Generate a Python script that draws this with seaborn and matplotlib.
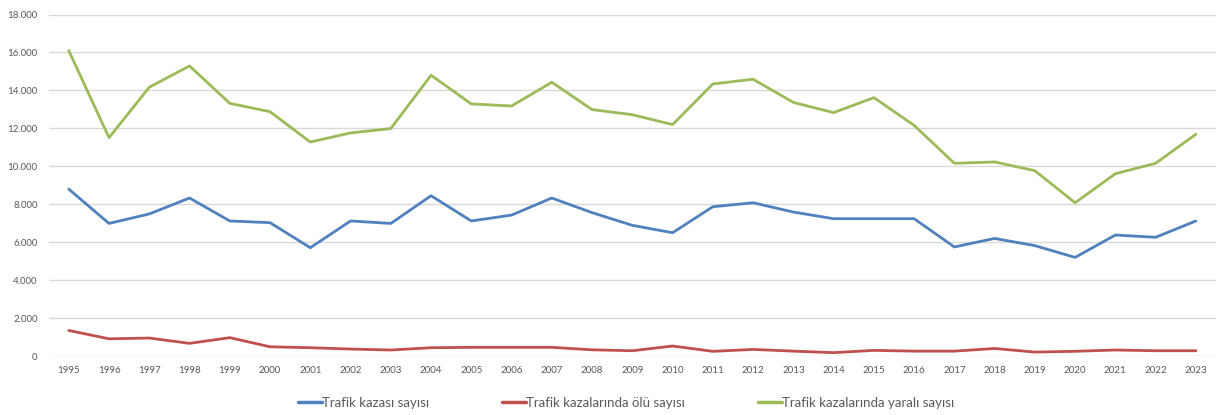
import pandas as pd
import numpy as np
import matplotlib
matplotlib.use("Agg")
import matplotlib.pyplot as plt
from matplotlib.ticker import FuncFormatter, MultipleLocator
import seaborn as sns

years = list(range(1995, 2024))

kaza = [8800, 6990, 7490, 8330, 7120, 7030, 5710, 7120, 6990, 8450,
        7120, 7430, 8330, 7560, 6890, 6500, 7870, 8080, 7590, 7240,
        7240, 7240, 5750, 6200, 5820, 5200, 6380, 6260, 7120]

olu = [1350, 910, 950, 670, 970, 490, 440, 370, 320, 440,
       460, 460, 460, 330, 280, 530, 250, 350, 260, 180,
       300, 260, 260, 400, 210, 250, 320, 280, 280]

yarali = [16100, 11510, 14170, 15290, 13320, 12880, 11280, 11760, 11990, 14800,
          13290, 13180, 14430, 12990, 12720, 12200, 14340, 14590, 13370, 12830,
          13620, 12160, 10160, 10230, 9770, 8080, 9610, 10160, 11690]

series_names = ["Trafik kazası sayısı", "Trafik kazalarında ölü sayısı",
                "Trafik kazalarında yaralı sayısı"]
colors = ["#4F81BD", "#C0504D", "#9BBB59"]

df = pd.DataFrame({"Yıl": years, series_names[0]: kaza,
                   series_names[1]: olu, series_names[2]: yarali})
long_df = df.melt(id_vars="Yıl", var_name="Seri", value_name="Sayı")
long_df["pos"] = long_df["Yıl"] - years[0]

sns.set_style("white")
plt.rcParams["font.family"] = ["Lato", "DejaVu Sans"]

fig = plt.figure(figsize=(12.16, 4.15), dpi=100)
ax = fig.add_axes([0.040, 0.142, 0.960, 0.823])

sns.lineplot(data=long_df, x="pos", y="Sayı", hue="Seri", hue_order=series_names,
             palette=colors, linewidth=2.0, ax=ax, legend=False)

ax.set_xlim(-0.5, len(years) - 0.5)
ax.set_ylim(0, 18000)
ax.yaxis.set_major_locator(MultipleLocator(2000))
ax.yaxis.set_major_formatter(FuncFormatter(lambda v, p: f"{int(v):,}".replace(",", ".")))
ax.set_xticks(range(len(years)))
ax.set_xticklabels([str(y) for y in years])
ax.tick_params(axis="both", length=0, labelsize=7, colors="#595959")
ax.tick_params(axis="x", pad=7)
ax.tick_params(axis="y", pad=8)
ax.grid(axis="y", color="#D9D9D9", linewidth=1)
ax.set_axisbelow(True)
for s in ax.spines.values():
    s.set_visible(False)
ax.set_xlabel("")
ax.set_ylabel("")

handles = [plt.Line2D([], [], color=c, linewidth=2.5) for c in colors]
fig.legend(handles, series_names, loc="center", bbox_to_anchor=(0.515, 0.03),
           ncol=3, frameon=False, fontsize=9.5, handlelength=1.8,
           handletextpad=0.05, columnspacing=5.5, labelcolor="#595959")

fig.savefig("out.png", dpi=100)
